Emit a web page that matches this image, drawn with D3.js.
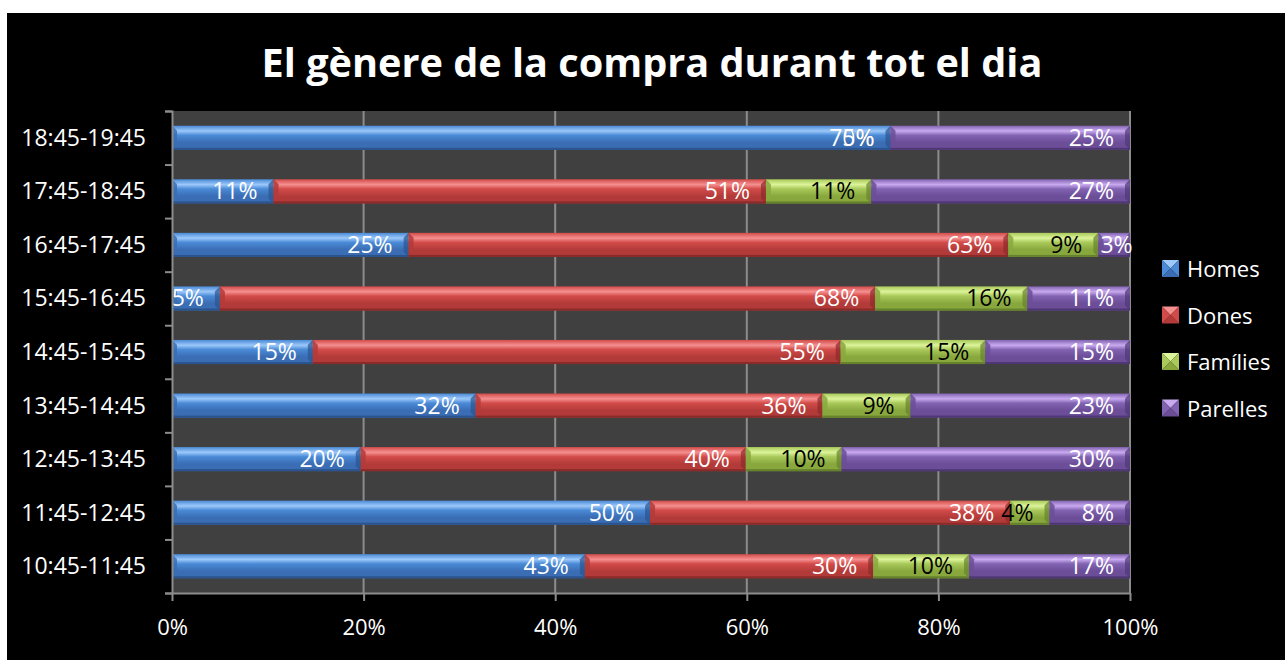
<!DOCTYPE html>
<html>
<head>
<meta charset="utf-8">
<script src="https://cdn.jsdelivr.net/npm/d3@7"></script>
<style>
  html, body { margin: 0; padding: 0; background: #fff; }
  svg { display: block; }
  text { font-family: "Open Sans", "DejaVu Sans", sans-serif; }
</style>
</head>
<body>
<div id="chart"></div>
<script>
// data, bottom row first (as in the sheet)
const categories = ["10:45-11:45", "11:45-12:45", "12:45-13:45", "13:45-14:45", "14:45-15:45",
                    "15:45-16:45", "16:45-17:45", "17:45-18:45", "18:45-19:45"];
const seriesNames = ["Homes", "Dones", "Famílies", "Parelles"];
const homes    = [43.1, 49.9, 19.7, 31.7, 14.7,  5.0, 24.7, 10.6, 75];
const dones    = [30.1, 37.6, 40.2, 36.2, 55.1, 68.4, 62.6, 51.4, 0];
const families = [10.0,  4.1, 10.0,  9.2, 15.1, 15.9,  9.4, 11.0, 0];
const parelles = [16.8,  8.4, 30.1, 22.9, 15.1, 10.7,  3.3, 27.0, 25];
const xTicks = [0, 0.2, 0.4, 0.6, 0.8, 1];

const W = 1285, H = 660;
const plot = {left: 172, right: 1130, top: 111, bottom: 593};

// colours for each series: highlight, main, shade, edge, label
const palette = [
  {hi: "#9cc8fa", main: "#4a8ad6", lo: "#3a6db4", edge: "#2b548e", label: "#fff"},
  {hi: "#f59090", main: "#d24b49", lo: "#b23b39", edge: "#8a2b2a", label: "#fff"},
  {hi: "#dcf49a", main: "#a9c95a", lo: "#88a83e", edge: "#66822c", label: "#000"},
  {hi: "#c9aaf0", main: "#8263b2", lo: "#6b4d98", edge: "#4f3775", label: "#fff"}
];

const svg = d3.select("#chart").append("svg")
  .attr("width", W).attr("height", H);

// white margin + black chart area
svg.append("rect").attr("width", W).attr("height", H).attr("fill", "#fff");
svg.append("rect").attr("x", 7).attr("y", 13).attr("width", W - 7).attr("height", H - 13).attr("fill", "#000");

const defs = svg.append("defs");
palette.forEach((p, i) => {
  const g = defs.append("linearGradient").attr("id", "grad" + i)
    .attr("x1", 0).attr("y1", 0).attr("x2", 0).attr("y2", 1);
  g.append("stop").attr("offset", "0%").attr("stop-color", p.main);
  g.append("stop").attr("offset", "22%").attr("stop-color", p.hi);
  g.append("stop").attr("offset", "40%").attr("stop-color", p.main);
  g.append("stop").attr("offset", "70%").attr("stop-color", p.lo);
  g.append("stop").attr("offset", "100%").attr("stop-color", p.lo);
});

// title
const title = svg.append("text")
  .attr("x", 652).attr("y", 77)
  .attr("text-anchor", "middle")
  .attr("fill", "#fff")
  .attr("font-weight", "bold")
  .attr("font-size", 38)
  .text("El gènere de la compra durant tot el dia");
// fit to the width seen in the original
const tw = title.node().getComputedTextLength();
title.attr("font-size", 38 * 781 / tw);

// plot background
svg.append("rect")
  .attr("x", plot.left).attr("y", plot.top)
  .attr("width", plot.right - plot.left).attr("height", plot.bottom - plot.top)
  .attr("fill", "#404040");

const x = d3.scaleLinear().domain([0, 1]).range([plot.left, plot.right]);
const y = d3.scaleBand()
  .domain(categories.slice().reverse())
  .range([plot.top, plot.bottom])
  .paddingInner(0.55).paddingOuter(0.275);

// gridlines
svg.append("g")
  .selectAll("line")
  .data(xTicks.slice(1))
  .join("line")
  .attr("x1", d => x(d)).attr("x2", d => x(d))
  .attr("y1", plot.top).attr("y2", plot.bottom)
  .attr("stroke", "#8c8c8c").attr("stroke-width", 2);

// stacked data
const table = categories.map((c, i) => ({
  cat: c, Homes: homes[i], Dones: dones[i], "Famílies": families[i], Parelles: parelles[i]
}));
const stack = d3.stack().keys(seriesNames).offset(d3.stackOffsetExpand);
const layers = stack(table);

const bh = y.bandwidth();
const bv = 5; // bevel size

layers.forEach((layer, si) => {
  const p = palette[si];
  const g = svg.append("g");
  layer.forEach(d => {
    const x0 = x(d[0]), x1 = x(d[1]), yy = y(d.data.cat);
    const w = x1 - x0;
    if (w <= 0) return;
    g.append("rect")
      .attr("x", x0).attr("y", yy).attr("width", w).attr("height", bh)
      .attr("fill", `url(#grad${si})`);
    const b = Math.min(bv, w / 2);
    // left bevel (darker notch)
    g.append("path")
      .attr("d", `M${x0},${yy}L${x0 + b},${yy + b}L${x0 + b},${yy + bh - b}L${x0},${yy + bh}Z`)
      .attr("fill", p.lo).attr("opacity", 0.85);
    // right bevel
    g.append("path")
      .attr("d", `M${x1},${yy}L${x1 - b},${yy + b}L${x1 - b},${yy + bh - b}L${x1},${yy + bh}Z`)
      .attr("fill", p.edge).attr("opacity", 0.7);
    // bottom edge
    g.append("rect")
      .attr("x", x0).attr("y", yy + bh - 2).attr("width", w).attr("height", 2)
      .attr("fill", p.edge);
  });
});

// data labels, inside end (Famílies first so the white zero labels sit on top)
[2, 0, 1, 3].forEach(si => {
  const p = palette[si];
  layers[si].forEach(d => {
    const x0 = x(d[0]), x1 = x(d[1]), yy = y(d.data.cat);
    const v = d.data[seriesNames[si]];
    const t = svg.append("text")
      .attr("y", yy + bh / 2 + 8)
      .attr("text-anchor", "end")
      .attr("font-size", 23)
      .attr("fill", p.label)
      .text(Math.round(v) + "%");
    let xe = x1 - 16;
    const lw = t.node().getComputedTextLength();
    if (x1 > x0 && xe - lw < x0 - 12) xe = x0 + 2 + lw;
    t.attr("x", xe);
  });
});

// left axis with ticks on category boundaries
const bound = d3.scaleLinear().domain([0, categories.length]).range([plot.bottom, plot.top]);
svg.append("g")
  .attr("transform", `translate(${plot.left},0)`)
  .call(d3.axisLeft(bound).tickValues(d3.range(categories.length + 1)).tickSize(7).tickFormat(""))
  .call(g => g.selectAll("line, path").attr("stroke", "#8c8c8c").attr("stroke-width", 2));

svg.append("g")
  .selectAll("text")
  .data(categories)
  .join("text")
  .attr("x", 146)
  .attr("y", d => y(d) + bh / 2 + 8)
  .attr("text-anchor", "end")
  .attr("font-size", 23)
  .attr("fill", "#fff")
  .text(d => d);

// bottom axis
svg.append("g")
  .attr("transform", `translate(0,${plot.bottom})`)
  .call(d3.axisBottom(x).tickValues(xTicks).tickSize(8).tickSizeOuter(0).tickFormat(d3.format(".0%")))
  .call(g => g.selectAll("line, path").attr("stroke", "#8c8c8c").attr("stroke-width", 2))
  .call(g => g.selectAll("text")
    .attr("fill", "#fff").attr("font-size", 22)
    .attr("font-family", "'Open Sans', sans-serif")
    .attr("dy", 0).attr("y", 42));

// legend
const legend = svg.append("g").attr("transform", "translate(1162,260)");
seriesNames.forEach((name, i) => {
  const p = palette[i];
  const g = legend.append("g").attr("transform", `translate(0,${i * 46.5})`);
  const s = 17, c = s / 2;
  g.append("path").attr("d", `M0,0L${s},0L${c},${c}Z`).attr("fill", p.hi);
  g.append("path").attr("d", `M0,${s}L${s},${s}L${c},${c}Z`).attr("fill", p.lo);
  g.append("path").attr("d", `M0,0L${c},${c}L0,${s}Z`).attr("fill", p.main);
  g.append("path").attr("d", `M${s},0L${c},${c}L${s},${s}Z`).attr("fill", p.main);
  g.append("text")
    .attr("x", 25).attr("y", 17)
    .attr("font-size", 22)
    .attr("fill", "#fff")
    .text(name);
});
</script>
</body>
</html>
